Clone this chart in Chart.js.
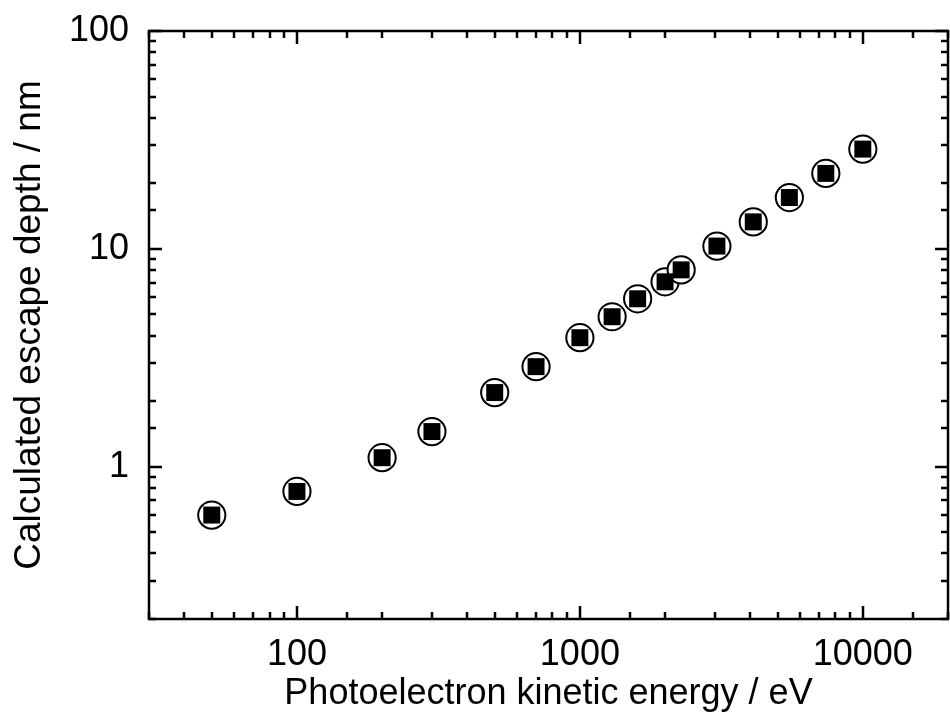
<!DOCTYPE html>
<html>
<head>
<meta charset="utf-8">
<script src="https://cdn.jsdelivr.net/npm/chart.js@4"></script>
<style>
  html, body { margin: 0; padding: 0; background: #fff; }
  #wrap { width: 950px; height: 722px; }
</style>
</head>
<body>
<div id="wrap"><canvas id="depthChart" width="950" height="722"></canvas></div>
<script>
// values
const energy = [50, 100, 200, 300, 500, 700, 1000, 1300, 1600, 2000, 2280, 3050, 4100, 5500, 7400, 10000]
const depth = [0.60, 0.77, 1.10, 1.45, 2.19, 2.88, 3.91, 4.88, 5.90, 7.06, 8.01, 10.3, 13.3, 17.2, 22.2, 28.7]

const xTitle = "Photoelectron kinetic energy / eV"
const yTitle = "Calculated escape depth / nm"
const xRange = [30, 20000]
const yRange = [0.2, 100]

const FONT = "'Liberation Sans', Arial, sans-serif"

const points = energy.map((e, i) => ({ x: e, y: depth[i] }))

function isDecade(v) {
  const l = Math.log10(v)
  return Math.abs(l - Math.round(l)) < 1e-6
}

// only label 1, 10, 100 ...
function decadeLabel(v) {
  return isDecade(v) ? String(v) : ''
}

// box frame + inward ticks on all four sides
const frameTicks = {
  id: 'frameTicks',
  beforeDatasetsDraw(chart) {
    const ctx = chart.ctx
    const a = chart.chartArea
    ctx.save()
    ctx.strokeStyle = '#000'
    ctx.lineWidth = 2.5
    ctx.strokeRect(a.left, a.top, a.right - a.left, a.bottom - a.top)

    const xs = chart.scales.x
    xs.ticks.forEach(t => {
      const px = Math.round(xs.getPixelForValue(t.value))
      const len = isDecade(t.value) ? 13 : 7
      ctx.beginPath()
      ctx.moveTo(px, a.bottom); ctx.lineTo(px, a.bottom - len)
      ctx.moveTo(px, a.top); ctx.lineTo(px, a.top + len)
      ctx.stroke()
    })

    const ys = chart.scales.y
    ys.ticks.forEach(t => {
      const py = Math.round(ys.getPixelForValue(t.value))
      const len = isDecade(t.value) ? 13 : 7
      ctx.beginPath()
      ctx.moveTo(a.left, py); ctx.lineTo(a.left + len, py)
      ctx.moveTo(a.right, py); ctx.lineTo(a.right - len, py)
      ctx.stroke()
    })
    ctx.restore()
  }
}

new Chart(document.getElementById("depthChart"), {
  type: "scatter",
  data: {
    datasets: [
      {
        label: "square",
        data: points,
        pointStyle: "rect",
        pointRadius: 12,
        pointHoverRadius: 12,
        backgroundColor: "#000",
        borderColor: "#000",
        borderWidth: 0,
        order: 0
      },
      {
        label: "circle",
        data: points,
        pointStyle: "circle",
        pointRadius: 13.6,
        pointHoverRadius: 13.6,
        backgroundColor: "#fff",
        borderColor: "#000",
        borderWidth: 2,
        order: 1
      }
    ]
  },
  options: {
    responsive: false,
    animation: false,
    layout: {
      autoPadding: false,
      padding: { top: 31, right: 2, left: 0, bottom: 0 }
    },
    plugins: {
      legend: { display: false },
      tooltip: { enabled: false }
    },
    scales: {
      x: {
        type: "logarithmic",
        position: "bottom",
        min: xRange[0],
        max: xRange[1],
        afterFit: s => {
          s.height = 103
          s.paddingLeft = 0
          s.paddingRight = 0
        },
        grid: { display: false },
        border: { display: false },
        ticks: {
          autoSkip: false,
          maxRotation: 0,
          padding: 6,
          color: "#000",
          font: { family: FONT, size: 36 },
          callback: decadeLabel
        },
        title: {
          display: true,
          text: xTitle,
          color: "#000",
          font: { family: FONT, size: 36 },
          padding: { top: 0, bottom: 6 }
        }
      },
      y: {
        type: "logarithmic",
        position: "left",
        min: yRange[0],
        max: yRange[1],
        afterFit: s => {
          s.width = 149
          s.paddingTop = 0
          s.paddingBottom = 0
        },
        grid: { display: false },
        border: { display: false },
        ticks: {
          autoSkip: false,
          padding: 12,
          color: "#000",
          font: { family: FONT, size: 36 },
          callback: decadeLabel
        },
        title: {
          display: true,
          text: yTitle,
          color: "#000",
          font: { family: FONT, size: 37 },
          padding: { top: 8, bottom: 0 }
        }
      }
    }
  },
  plugins: [frameTicks]
})
</script>
</body>
</html>
